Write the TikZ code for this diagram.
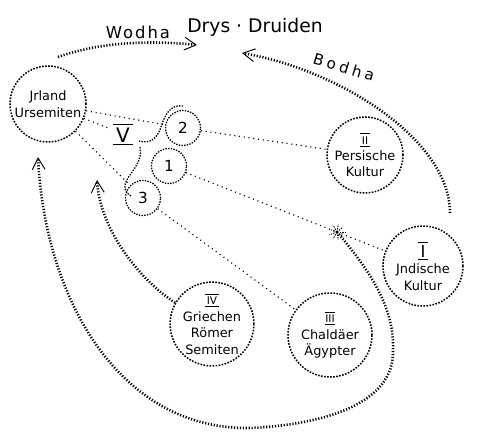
\documentclass[tikz,border=0pt]{standalone}
\usepackage{fontspec}
\setmainfont{DejaVu Sans}
\usetikzlibrary{arrows.meta}
\newcommand{\roem}[1]{$\overline{\underline{\raisebox{0pt}[1.15\height]{#1}}}$}

\begin{document}
\begin{tikzpicture}[x=0.03cm, y=-0.03cm,
    kreis/.style={circle, draw, line width=1.3pt, dash pattern=on 1.4pt off 1.2pt, inner sep=0pt, align=center, font=\fontsize{11}{14}\selectfont},
    klein/.style={circle, draw, line width=1.1pt, dash pattern=on 1.2pt off 1.1pt, inner sep=0pt, minimum size=1.05cm, font=\fontsize{13}{15}\selectfont},
    umriss/.style={line width=1.1pt, dash pattern=on 1.2pt off 1.1pt},
    punkt/.style={line width=1pt, dash pattern=on 0.9pt off 3.2pt},
    weit/.style={font=\fontsize{14}{16}\selectfont\addfontfeature{LetterSpace=12}},
    strich/.style={line width=2.2pt, dash pattern=on 1pt off 1.5pt, -{Straight Barb[length=10pt,width=11pt,line width=0.8pt]}}]
    \useasboundingbox (0,0) rectangle (479,446);
    % Ueberschriften
    \node[weit] (wodha) at (138,32) {Wodha};
    \node[font=\fontsize{16}{18}\selectfont] (druiden) at (255,27) {Drys · Druiden};
    \node[weit, font=\fontsize{13}{15}\selectfont\addfontfeature{LetterSpace=24}, rotate=-17] (bodha) at (344,67) {Bodha};
    % Kulturkreise
    \node[kreis, minimum size=2.28cm] (irland) at (48,104) {Jrland\\Ursemiten};
    \node[kreis, minimum size=2.28cm] (persien) at (365,155) {{\fontsize{9}{10}\selectfont\roem{\,II\,}}\\Persische\\Kultur};
    \node[kreis, minimum size=2.4cm] (indien) at (423,266) {{\fontsize{14}{15}\selectfont\roem{\,I\,}}\\Jndische\\Kultur};
    \node[kreis, minimum size=2.52cm] (chaldaea) at (330,335) {{\fontsize{9}{10}\selectfont\roem{III}}\\Chaldäer\\Ägypter};
    \node[kreis, minimum size=2.46cm] (griechen) at (212,324) {{\fontsize{9}{10}\selectfont\roem{\,IV\,}}\\Griechen\\Römer\\Semiten};
    % die drei kleinen Kreise
    \node[klein] (zwei) at (183,128) {2};
    \node[klein] (eins) at (169,166) {1};
    \node[klein] (drei) at (143,198) {3};
    \node[font=\fontsize{17}{18}\selectfont] (fuenf) at (123,134) {\roem{\,V\,}};
    \draw[umriss] (183,106) .. controls (170,104) and (165,115) .. (161,127) .. controls (157,139) and (150,144) .. (139,141);
    \draw[umriss] (140,147) .. controls (143,160) and (133,170) .. (128,178) .. controls (123,186) and (124,192) .. (131,196);
    % Stern
    \coordinate (stern) at (337,232);
    \foreach \w in {0,40,...,320} {
        \draw[line width=0.8pt, dash pattern=on 1.2pt off 1pt] (stern) -- ++(\w:8);
    }
    % punktierte Verbindungen
    \draw[punkt] (irland) -- (zwei);
    \draw[punkt] (irland) -- (fuenf);
    \draw[punkt] (irland) -- (drei);
    \draw[punkt] (zwei) -- (persien);
    \draw[punkt] (eins) -- (stern);
    \draw[punkt] (stern) -- (indien);
    \draw[punkt] (drei) -- (chaldaea);
    % Stroemungen
    \coordinate (wodhaA) at (58,57);
    \coordinate (wodhaB) at (197,45);
    \draw[strich] (wodhaA) .. controls (100,42) and (150,40) .. (wodhaB);
    \coordinate (bodhaA) at (450,213);
    \coordinate (bodhaB) at (242,53);
    \draw[strich] (bodhaA) .. controls (450,140) and (340,70) .. (bodhaB);
    \coordinate (griechenB) at (97,180);
    \draw[strich] (griechen.150) .. controls (140,280) and (100,230) .. (griechenB);
    \coordinate (bogenB) at (38,157);
    \draw[strich] (stern) .. controls (365,265) and (395,305) .. (393,350)
        .. controls (395,405) and (320,425) .. (250,428)
        .. controls (120,430) and (45,300) .. (bogenB);
\end{tikzpicture}
\end{document}
